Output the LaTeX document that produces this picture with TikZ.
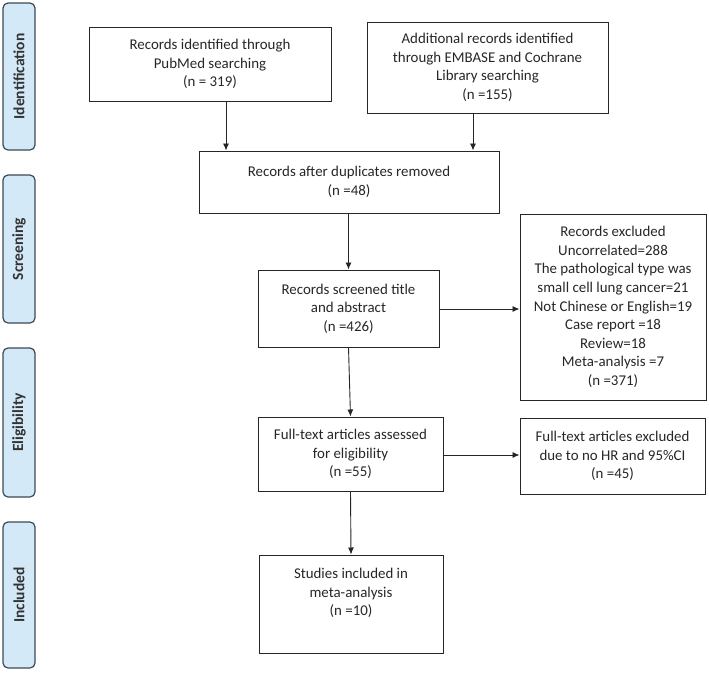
\documentclass[tikz,border=0pt]{standalone}
\usepackage{fontspec}
\setmainfont{Carlito}
\usetikzlibrary{arrows.meta}
\definecolor{sidefill}{HTML}{D3E9F8}
\definecolor{sidedraw}{HTML}{3C4A55}
\definecolor{linec}{HTML}{262626}
\tikzset{
  phase/.style={draw=sidedraw, line width=1.2pt, fill=sidefill, rounded corners=5pt,
    rotate=90, minimum width=#1, minimum height=32pt, inner sep=0pt,
    font=\fontsize{15.5}{17}\selectfont\bfseries, text=black!80},
  flowbox/.style n args={2}{draw=linec, line width=1pt, minimum width=#1, minimum height=#2,
    inner sep=0pt, align=center, font=\fontsize{14.9}{18.6}\selectfont, text=black!85},
  arr/.style={draw=linec, line width=0.9pt, -{Latex[length=7pt,width=6pt]}}
}
\begin{document}
\begin{tikzpicture}[x=1pt,y=-1pt]
\useasboundingbox (0,0) rectangle (709,672);
% phase labels
\node[phase=147pt] (pid) at (19,76.5) {Identification};
\node[phase=148pt] (psc) at (19,249) {Screening};
\node[phase=149pt] (pel) at (19,422.5) {Eligibility};
\node[phase=146pt] (pin) at (19,595) {Included};
% boxes
\node[flowbox={242pt}{74pt}] (b1) at (210,64) {Records identified through\\PubMed searching\\(n = 319)};
\node[flowbox={241pt}{91pt}] (b2) at (487.5,67.5) {Additional records identified\\through EMBASE and Cochrane\\Library searching\\(n =155)};
\node[flowbox={300pt}{62pt}] (b3) at (349,182) {Records after duplicates removed\\(n =48)};
\node[flowbox={181pt}{77pt}] (b4) at (348.5,308.5) {Records screened title\\and abstract\\(n =426)};
\node[flowbox={186pt}{186pt}] (b5) at (613,307) {Records excluded\\Uncorrelated=288\\The pathological type was\\small cell lung cancer=21\\Not Chinese or English=19\\Case report =18\\Review=18\\Meta-analysis =7\\(n =371)};
\node[flowbox={185pt}{74pt}] (b6) at (350.5,454) {Full-text articles assessed\\for eligibility\\(n =55)};
\node[flowbox={185pt}{76pt}] (b7) at (612.5,456) {Full-text articles excluded\\due to no HR and 95\%CI\\(n =45)};
\node[flowbox={184pt}{98pt}] (b8) at (351,604) {Studies included in\\meta-analysis\\(n =10)\\\strut};
% helper coordinates
\coordinate (c1) at (226,0);
\coordinate (c2) at (473,0);
\coordinate (c4) at (0,309);
\coordinate (c6) at (0,455);
% connectors
\draw[arr] (b1.south -| c1) -- (b3.north -| c1);
\draw[arr] (b2.south -| c2) -- (b3.north -| c2);
\draw[arr] (b3.south -| b4.north) -- (b4.north);
\draw[arr] (b4.east |- c4) -- (b5.west |- c4);
\draw[arr] (b4.south) -- (b6.north);
\draw[arr] (b6.east |- c6) -- (b7.west |- c6);
\draw[arr] (b6.south) -- (b8.north);
\end{tikzpicture}
\end{document}
